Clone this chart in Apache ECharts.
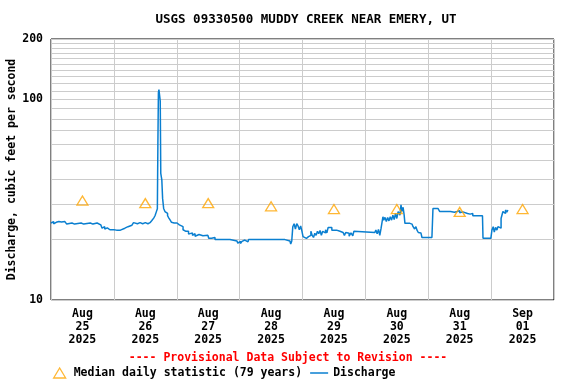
<!DOCTYPE html>
<html>
<head>
<meta charset="utf-8">
<script src="https://cdn.jsdelivr.net/npm/echarts@6/dist/echarts.min.js"></script>
<style>
html,body{margin:0;padding:0;background:#fff;}
#chart{width:576px;height:384px;}
</style>
</head>
<body>
<div id="chart"></div>
<script>
// ---- data ----
const titleText = 'USGS 09330500 MUDDY CREEK NEAR EMERY, UT';
const yAxisTitle = 'Discharge, cubic feet per second';
const provisionalText = '---- Provisional Data Subject to Revision ----';
const medianName = 'Median daily statistic (79 years)';
const dischargeName = 'Discharge';

// x tick labels (placed at noon of each day); hours since Aug 25 00:00
const tickMonths = ['Aug','Aug','Aug','Aug','Aug','Aug','Aug','Sep'];
const tickDays   = ['25','26','27','28','29','30','31','01'];
const tickYears  = ['2025','2025','2025','2025','2025','2025','2025','2025'];

// median daily statistic (at noon of each day)
const medianHours  = [12, 36, 60, 84, 108, 132, 156, 180];
const medianValues = [31.3, 30.4, 30.4, 29.3, 28.4, 28.4, 27.5, 28.4];

// minor horizontal grid values
const gridValues = [20,30,40,50,60,70,80,90,110,120,130,140,150,160,170,180,190];

// discharge (hours since Aug 25 00:00, cfs)
const hours = [
0,0.5,1.0,1.5,2.0,2.5,3.0,3.5,4.0,4.5,5.3,6.0,6.5,8.0,8.5,9.0,11.5,12.0,12.5,15.0,15.5,16.0,17.6,
18.0,19.0,19.5,20.0,20.5,21.0,21.5,22.5,23.0,24.0,25.0,25.5,26.5,27.0,28.2,29.4,30.9,31.5,32.0,33.0,34.0,35.0,36.0,37.0,37.8,38.5,39.2,39.7,40.2,40.6,
40.8,41.0,41.2,41.5,41.7,41.9,42.3,42.6,43.0,43.5,44.0,44.5,45.0,45.5,46.0,46.6,47.0,47.5,48.1,49.0,49.5,50.4,51.0,51.5,52.0,52.5,53.0,54.0,54.5,55.0,55.5,56.5,57.0,58.0,59.9,
60.2,61.3,62.6,68.3,68.5,71.0,71.3,71.8,72.3,72.9,73.5,74.0,75.2,75.4,89.3,89.5,91.2,91.5,91.9,
92.3,92.8,93.3,93.8,94.3,94.8,95.3,95.8,96.2,96.9,97.5,98.3,98.8,99.2,99.7,100.2,100.7,101.2,101.7,102.2,102.7,103.2,103.7,104.2,104.8,105.3,105.8,106.5,107.2,108.0,109.0,110.3,110.8,111.5,112.0,112.5,113.2,113.8,114.5,115.2,115.6,116.2,123.6,124.0,124.5,125.0,125.5,126.0,
126.7,127.0,127.5,128.0,128.5,129.0,129.5,130.0,130.5,131.0,131.5,132.0,132.5,133.2,133.6,133.9,134.4,134.8,135.1,136.0,137.0,137.8,138.2,138.8,139.3,139.7,140.2,140.8,141.2,141.6,145.4,
145.8,147.7,148.4,149.5,150.0,151.5,152.0,152.5,153.0,154.0,154.5,155.0,155.5,156.0,156.5,157.2,159.0,160.0,161.0,164.7,164.9,167.9,
168.3,168.8,169.2,169.7,170.2,170.6,171.3,171.8,172.2,172.5,173.0,173.5,174.0,174.4
];
const discharge = [
24.2,24.6,24.0,24.4,24.0,24.6,24.2,24.5,24.1,24.6,24.2,23.9,24.2,24.2,23.9,24.2,24.2,23.9,24.2,24.2,23.9,24.2,24.2,
23.7,23.2,22.8,23.2,22.6,22.9,22.4,22.8,22.4,22.3,22.6,22.3,22.3,22.8,23.2,23.6,24.0,24.3,24.0,24.3,24.0,24.3,24.0,24.3,24.5,24.9,25.6,26.3,27.5,28.5,
60,108,112,110,98,42.8,39.7,32.1,28.6,27.6,27.0,26.3,25.6,25.0,24.4,24.2,24.6,24.2,23.7,23.7,23.2,22.4,22.0,21.6,22.0,21.3,21.6,21.0,21.4,20.8,21.2,21.3,20.9,21.0,21.0,
20.3,20.5,20.0,20.0,19.7,19.7,19.2,19.6,19.1,19.6,19.9,19.5,19.6,20.0,20.0,19.7,19.7,19.0,19.7,
23.2,24.0,22.6,24.0,23.4,22.4,23.4,22.0,20.7,20.3,20.7,20.3,21.0,22.0,21.0,20.5,21.5,21.0,22.0,21.4,22.2,21.0,22.0,21.6,22.4,21.6,23.0,23.0,22.3,22.3,22.0,22.3,21.7,21.5,21.0,21.7,21.5,20.8,21.6,20.9,22.0,21.7,21.7,22.3,21.4,22.5,21.0,22.8,
26.0,25.0,25.8,24.6,25.8,24.8,26.0,25.0,26.5,25.2,27.0,25.5,27.6,26.5,29.8,27.6,29.0,26.5,24.1,24.1,23.9,24.1,23.2,22.6,23.2,22.3,21.7,21.6,21.8,20.5,20.5,
28.6,28.6,27.6,27.9,27.6,28.0,27.6,28.1,27.4,27.2,27.6,27.4,27.9,27.2,27.5,27.0,26.8,27.0,26.3,26.3,20.3,20.3,
22.3,23.2,21.8,23.0,22.3,23.2,22.8,25.5,25.0,27.6,27.0,28.1,27.4,28.1
];

// ---- chart ----
const FONT = '"DejaVu Sans Mono", monospace';
const chart = echarts.init(document.getElementById('chart'), null, {renderer: 'canvas'});
const gridColor = '#cccccc';
const lineColor = '#0a7fd0';
const medianColor = '#ffa500';

chart.setOption({
  animation: false,
  backgroundColor: '#ffffff',
  title: {
    text: titleText,
    left: 301, top: 8, textAlign: 'center',
    textStyle: {fontFamily: FONT, fontSize: 12.5, fontWeight: 'bold', color: '#000'}
  },
  grid: {left: 51, right: 22, top: 39, bottom: 84, show: true, borderColor: '#000', borderWidth: 1,
         backgroundColor: 'transparent', containLabel: false, outerBoundsMode: 'none'},
  legend: {
    left: 48, top: 362, itemGap: 8, itemWidth: 18, itemHeight: 10,
    selectedMode: false, symbolKeepAspect: true,
    textStyle: {fontFamily: FONT, fontSize: 11.5, fontWeight: 'bold', color: '#000'},
    data: [
      {name: medianName, icon: 'path://M0,10 L6,0 L12,10 Z',
       itemStyle: {color: 'rgba(255,255,255,0)', borderColor: medianColor, borderWidth: 1.3}},
      {name: dischargeName, icon: 'path://M0,0 H18 V1.5 H0 Z',
       itemStyle: {color: lineColor, borderWidth: 0}}
    ]
  },
  graphic: [{
    type: 'text', left: 'center', top: 352,
    style: {text: provisionalText, fill: '#ff0000', font: 'bold 11.5px ' + FONT}
  }],
  xAxis: [{
    type: 'value', min: 0, max: 192, interval: 24,
    axisLine: {show: false}, axisTick: {show: false}, axisLabel: {show: false},
    splitLine: {show: true, lineStyle: {color: gridColor, width: 1}}
  }, {
    type: 'value', min: 0, max: 192, interval: 12, position: 'bottom',
    axisLine: {show: false}, axisTick: {show: false}, splitLine: {show: false},
    axisLabel: {
      show: true, margin: 8, lineHeight: 13,
      fontFamily: FONT, fontSize: 11.5, fontWeight: 'bold', color: '#000',
      formatter: function (v) {
        if (v % 24 !== 12) return '';
        const i = (v - 12) / 24;
        return tickMonths[i] + '\n' + tickDays[i] + '\n' + tickYears[i];
      }
    }
  }],
  yAxis: {
    type: 'log', logBase: 10, min: 10, max: 200,
    name: yAxisTitle, nameLocation: 'middle', nameRotate: 90, nameGap: 33, nameMoveOverlap: false,
    nameTextStyle: {fontFamily: FONT, fontSize: 11.5, fontWeight: 'bold', color: '#000'},
    axisLine: {show: false}, axisTick: {show: false},
    axisLabel: {fontFamily: FONT, fontSize: 11.5, fontWeight: 'bold', color: '#000', margin: 8},
    splitLine: {show: true, lineStyle: {color: gridColor, width: 1}}
  },
  series: [{
    name: 'grid', type: 'line', data: [], z: 1, silent: true,
    markLine: {
      silent: true, symbol: 'none', label: {show: false}, animation: false, z: 1,
      lineStyle: {color: gridColor, type: 'solid', width: 1},
      emphasis: {disabled: true},
      data: gridValues.map(v => ({yAxis: v}))
    }
  }, {
    name: dischargeName, type: 'line', xAxisIndex: 0,
    data: hours.map((h, i) => [h, discharge[i]]),
    symbol: 'none', showSymbol: false, step: 'end', z: 3,
    lineStyle: {color: lineColor, width: 1.5},
    itemStyle: {color: lineColor},
    emphasis: {disabled: true}
  }, {
    name: medianName, type: 'scatter', xAxisIndex: 0,
    data: medianHours.map((h, i) => [h, medianValues[i]]),
    symbol: 'triangle', symbolSize: [11, 9], z: 4,
    itemStyle: {color: 'rgba(255,255,255,0)', borderColor: medianColor, borderWidth: 1.3},
    emphasis: {disabled: true}
  }]
});
</script>
</body>
</html>
